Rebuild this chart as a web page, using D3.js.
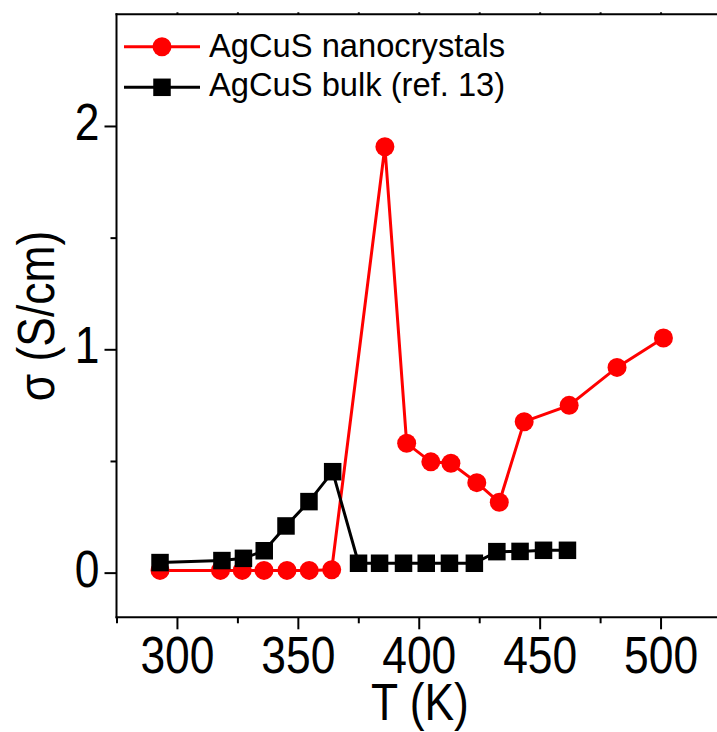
<!DOCTYPE html>
<html><head><meta charset="utf-8">
<script src="https://cdn.jsdelivr.net/npm/d3@7"></script>
<style>body{margin:0;background:#fff}svg{display:block}text{font-family:"Liberation Sans",Arial,sans-serif;fill:#000}</style>
</head><body><svg id="c" width="717" height="732"></svg>
<script>
const T_nano = [293, 318, 327, 336, 345.5, 354.7, 364, 386, 395, 405, 413.3, 424, 433.3, 443.6, 462.2, 482, 501.2];
const sigma_nano = [0.01, 0.01, 0.01, 0.01, 0.01, 0.01, 0.013, 1.907, 0.579, 0.496, 0.49, 0.403, 0.315, 0.676, 0.749, 0.919, 1.051];
const T_bulk = [293, 318.6, 327.5, 336.1, 345.1, 354.6, 364.4, 375.1, 383.8, 393.7, 403.1, 412.7, 423, 432.3, 441.9, 451.6, 461.5];
const sigma_bulk = [0.045, 0.054, 0.064, 0.098, 0.209, 0.318, 0.452, 0.042, 0.042, 0.042, 0.042, 0.042, 0.042, 0.094, 0.095, 0.1, 0.1];
const xMajor = [300, 350, 400, 450, 500];
const xMinor = [275, 325, 375, 425, 475, 525];
const yMajor = [0, 1, 2];
const yMinor = [0.5, 1.5];
const seriesNames = ["AgCuS nanocrystals", "AgCuS bulk (ref. 13)"];
const xTitle = "T (K)";
const yTitle = "\u03c3 (S/cm)";

const svg = d3.select("#c");
const L = 116.5, R = 721, Tp = 14.3, B = 617.3;
const x = d3.scaleLinear().domain([275, 525]).range([L, R]);
const y = d3.scaleLinear().domain([-0.2, 2.5]).range([B, Tp]);
const SX = 0.87, FS = 51;

// bottom axis
const gx = svg.append("g").attr("transform", `translate(0,${B})`)
  .call(d3.axisBottom(x).tickValues(xMajor).tickSize(12).tickSizeOuter(0));
gx.select(".domain").remove();
gx.selectAll("line").attr("stroke", "#000").attr("stroke-width", 2);
gx.selectAll("text").attr("y", 56).attr("dy", null).attr("font-size", FS)
  .attr("transform", `scale(${SX},1)`).style("font-family", '"Liberation Sans",Arial,sans-serif');
const gxm = svg.append("g").attr("transform", `translate(0,${B})`)
  .call(d3.axisBottom(x).tickValues(xMinor).tickSize(6).tickFormat(""));
gxm.select(".domain").remove();
gxm.selectAll("line").attr("stroke", "#000").attr("stroke-width", 2);

// top axis ticks (tiny)
const gt = svg.append("g").attr("transform", `translate(0,${Tp})`)
  .call(d3.axisTop(x).tickValues(d3.range(300, 525, 25)).tickSize(2).tickFormat(""));
gt.select(".domain").remove();
gt.selectAll("line").attr("stroke", "#000").attr("stroke-width", 2);

// left axis
const gy = svg.append("g").attr("transform", `translate(${L},0)`)
  .call(d3.axisLeft(y).tickValues(yMajor).tickSize(12).tickSizeOuter(0).tickFormat(d3.format("d")));
gy.select(".domain").remove();
gy.selectAll("line").attr("stroke", "#000").attr("stroke-width", 2);
gy.selectAll("text").attr("x", -17 / SX).attr("dy", null).attr("y", 13.5).attr("font-size", FS)
  .attr("transform", `scale(${SX},1)`).style("font-family", '"Liberation Sans",Arial,sans-serif');
const gym = svg.append("g").attr("transform", `translate(${L},0)`)
  .call(d3.axisLeft(y).tickValues(yMinor).tickSize(6).tickFormat(""));
gym.select(".domain").remove();
gym.selectAll("line").attr("stroke", "#000").attr("stroke-width", 2);

// frame lines
svg.append("line").attr("x1", L).attr("x2", L).attr("y1", Tp - 1).attr("y2", B + 1).attr("stroke", "#000").attr("stroke-width", 2);
svg.append("line").attr("x1", L - 1).attr("x2", R).attr("y1", B).attr("y2", B).attr("stroke", "#000").attr("stroke-width", 2);
svg.append("line").attr("x1", L - 1).attr("x2", R).attr("y1", Tp).attr("y2", Tp).attr("stroke", "#000").attr("stroke-width", 2);
svg.append("line").attr("x1", R).attr("x2", R).attr("y1", Tp).attr("y2", B).attr("stroke", "#000").attr("stroke-width", 2);

// titles
svg.append("text").attr("transform", `translate(420,720) scale(${SX},1)`).attr("text-anchor", "middle")
  .attr("font-size", FS).text(xTitle);
svg.append("text").attr("transform", `translate(54,316) rotate(-90) scale(${SX},1)`).attr("text-anchor", "middle")
  .attr("font-size", FS).text(yTitle);

// data
const nano = T_nano.map((t, i) => [t, sigma_nano[i]]);
const bulk = T_bulk.map((t, i) => [t, sigma_bulk[i]]);
const line = d3.line().x(d => x(d[0])).y(d => y(d[1]));
const red = "#ff0000";
svg.append("path").datum(nano).attr("d", line).attr("fill", "none").attr("stroke", red).attr("stroke-width", 3);
svg.append("g").selectAll("circle").data(nano).join("circle")
  .attr("cx", d => x(d[0])).attr("cy", d => y(d[1])).attr("r", 9.5).attr("fill", red);
svg.append("path").datum(bulk).attr("d", line).attr("fill", "none").attr("stroke", "#000").attr("stroke-width", 3);
const sq = 17.5;
svg.append("g").selectAll("rect").data(bulk).join("rect")
  .attr("x", d => x(d[0]) - sq / 2).attr("y", d => y(d[1]) - sq / 2).attr("width", sq).attr("height", sq).attr("fill", "#000");

// legend
const lg = svg.append("g");
[[red, 46.7, "circle"], ["#000", 87.3, "square"]].forEach((s, i) => {
  lg.append("line").attr("x1", 124).attr("x2", 200).attr("y1", s[1]).attr("y2", s[1]).attr("stroke", s[0]).attr("stroke-width", 3);
  if (s[2] === "circle") lg.append("circle").attr("cx", 162).attr("cy", s[1]).attr("r", 9.5).attr("fill", s[0]);
  else lg.append("rect").attr("x", 162 - sq / 2).attr("y", s[1] - sq / 2).attr("width", sq).attr("height", sq).attr("fill", s[0]);
  lg.append("text").attr("x", 209).attr("y", i === 0 ? 56.7 : 95.5).attr("font-size", 32.7).text(seriesNames[i]);
});
</script></body></html>
